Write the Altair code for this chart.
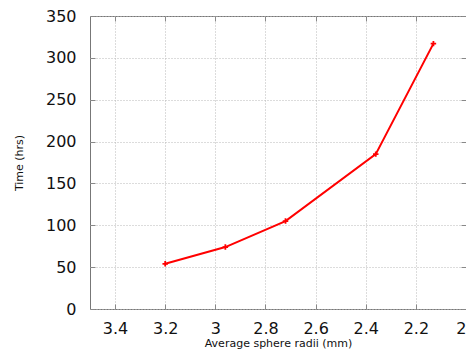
import altair as alt
import pandas as pd

radii = [3.2, 2.96, 2.72, 2.36, 2.13]
hours = [54, 74, 105, 185, 317]
x_ticks = [3.4, 3.2, 3.0, 2.8, 2.6, 2.4, 2.2, 2.0]
y_ticks = [0, 50, 100, 150, 200, 250, 300, 350]

df = pd.DataFrame({"r": radii, "t": hours})

FONT = "DejaVu Sans"
xs = alt.Scale(domain=[3.5, 2.0], nice=False, zero=False)
ys = alt.Scale(domain=[0, 350], nice=False)

base = alt.Chart(df)

line = base.mark_line(color="#ff0000", strokeWidth=2).encode(
    x=alt.X("r:Q", scale=xs, title="Average sphere radii (mm)",
            axis=alt.Axis(orient="bottom", values=x_ticks, format="~g", ticks=False, domain=False,
                          grid=True, gridColor="#b8b8b8", gridDash=[1, 2], gridWidth=1,
                          labelFont=FONT, labelFontSize=16, labelColor="#111",
                          labelPadding=11, labelFlush=True,
                          titleFont=FONT, titleFontSize=11, titleFontWeight="normal",
                          titleColor="#111", titlePadding=1)),
    y=alt.Y("t:Q", scale=ys, title="Time (hrs)",
            axis=alt.Axis(orient="left", values=y_ticks, ticks=False, domain=False,
                          grid=True, gridColor="#b8b8b8", gridDash=[1, 2], gridWidth=1,
                          labelFont=FONT, labelFontSize=16, labelColor="#111",
                          labelPadding=14, labelFlush=False,
                          titleFont=FONT, titleFontSize=11, titleFontWeight="normal",
                          titleColor="#111", titlePadding=21)),
)

pts = base.mark_point(shape="M-1,0L1,0M0,-1L0,1", size=30, color="#ff0000",
                      strokeWidth=1.8, filled=False, opacity=1).encode(
    x=alt.X("r:Q", scale=xs, axis=None), y=alt.Y("t:Q", scale=ys, axis=None))

def tick_layer(xorient, yorient):
    return base.mark_point(opacity=0).encode(
        x=alt.X("r:Q", scale=xs, title=None,
                axis=alt.Axis(orient=xorient, values=x_ticks, labels=False, domain=False,
                              grid=False, ticks=True, tickSize=5, offset=-5,
                              tickColor="#888", tickWidth=1)),
        y=alt.Y("t:Q", scale=ys, title=None,
                axis=alt.Axis(orient=yorient, values=y_ticks, labels=False, domain=False,
                              grid=False, ticks=True, tickSize=5, offset=-5,
                              tickColor="#888", tickWidth=1)),
    )

chart = alt.layer(line, pts, tick_layer("bottom", "left"), tick_layer("top", "right")).resolve_axis(
    x="independent", y="independent"
).properties(
    width=376, height=293,
    autosize=alt.AutoSizeParams(type="none"),
    padding={"left": 82, "top": 8, "right": 0, "bottom": 43},
    background="white",
).configure_view(stroke="#777", strokeWidth=1)

chart.save("out.html", embed_options={"renderer": "svg", "actions": False})
